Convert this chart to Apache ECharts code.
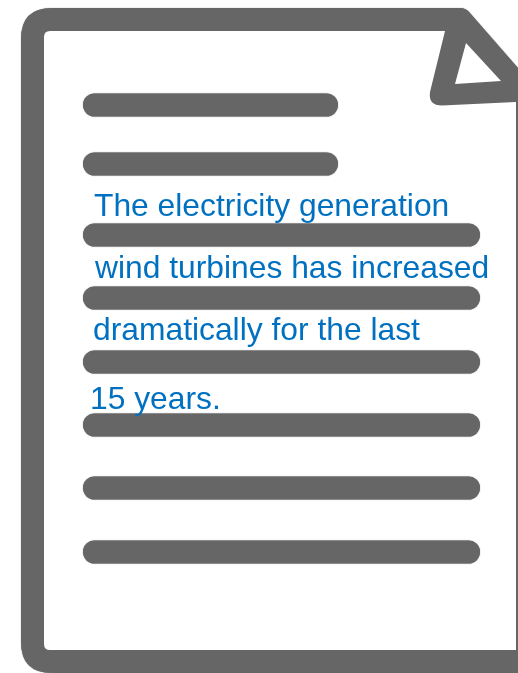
<!DOCTYPE html>
<html><head><meta charset="utf-8">
<style>html,body{margin:0;padding:0;background:#fff}#c{width:518px;height:673px}</style>
<script src="https://cdn.jsdelivr.net/npm/echarts@6/dist/echarts.min.js"></script>
</head><body><div id="c"></div>
<script>
const textLines = ["The electricity generation","wind turbines has increased","dramatically for the last","15 years."];
const textX = [94,95,93,90];
const textTop = [191,253,315,384];
const ruleY = [105,164,235,298,362,425,488,552];
const ruleStart = [83,83,83,83,83,83,83,83];
const ruleEnd = [338,338,480,480,480,480,480,480];
const GREY = '#666666', BLUE = '#0070c0';

const chart = echarts.init(document.getElementById('c'));

function pathFrom(api, segs){
  return segs.map(s=>{
    let out=s[0];
    for(let i=1;i<s.length;i+=2){const p=api.coord([s[i],s[i+1]]);out+=' '+p[0]+' '+p[1];}
    return out;
  }).join(' ');
}
const pageOuter = [
 ['M',518,673],['L',52,673],['Q',21,673,21,642],['L',21,39],['Q',21,8,52,8],['L',460,8],['Q',466,8,470,13],['L',518,68],['Z']
];
const pageInner = [
 ['M',516,650],['L',50,650],['Q',44,650,44,644],['L',44,37],['Q',44,31,50,31],['L',445,31],['L',430,92],['Q',428,105.5,442,105.5],['L',516,102],['Z']
];
const foldHole = [['M',466,43],['L',501,81],['L',455,84],['Z']];

const soft = {shadowBlur:1,shadowColor:GREY};
chart.setOption({
  animation:false,
  backgroundColor:'#fff',
  grid:{left:0,right:0,top:0,bottom:0},
  xAxis:{type:'value',min:0,max:518,show:false},
  yAxis:{type:'value',min:0,max:673,inverse:true,show:false},
  series:[
   {type:'custom',coordinateSystem:'cartesian2d',silent:true,z:1,data:[[0,0]],
    renderItem:(p,api)=>({type:'group',children:[
      {type:'path',shape:{pathData:pathFrom(api,pageOuter)},style:{fill:GREY,...soft}},
      {type:'path',shape:{pathData:pathFrom(api,pageInner)},style:{fill:'#fff'}},
      {type:'path',shape:{pathData:pathFrom(api,foldHole)},style:{fill:'#fff'}}
    ]})},
   {type:'custom',coordinateSystem:'cartesian2d',silent:true,z:2,
    data:ruleY.map((y,i)=>[ruleStart[i],y,ruleEnd[i]]),
    renderItem:(p,api)=>{
      const a=api.coord([api.value(0),api.value(1)]), b=api.coord([api.value(2),api.value(1)]);
      return {type:'line',shape:{x1:a[0]+11.5,y1:a[1],x2:b[0]-11.5,y2:b[1]},style:{stroke:GREY,lineWidth:23,lineCap:'round',...soft}};
    }},
   {type:'custom',coordinateSystem:'cartesian2d',silent:true,z:3,
    data:textLines.map((t,i)=>[textX[i],textTop[i]]),
    renderItem:(p,api)=>{
      const a=api.coord([api.value(0),api.value(1)]);
      return {type:'text',x:a[0],y:a[1],style:{text:textLines[p.dataIndex],fill:BLUE,font:'31.8px "Liberation Sans", Arial, sans-serif',textAlign:'left',verticalAlign:'top'}};
    }}
  ]
});
</script></body></html>
